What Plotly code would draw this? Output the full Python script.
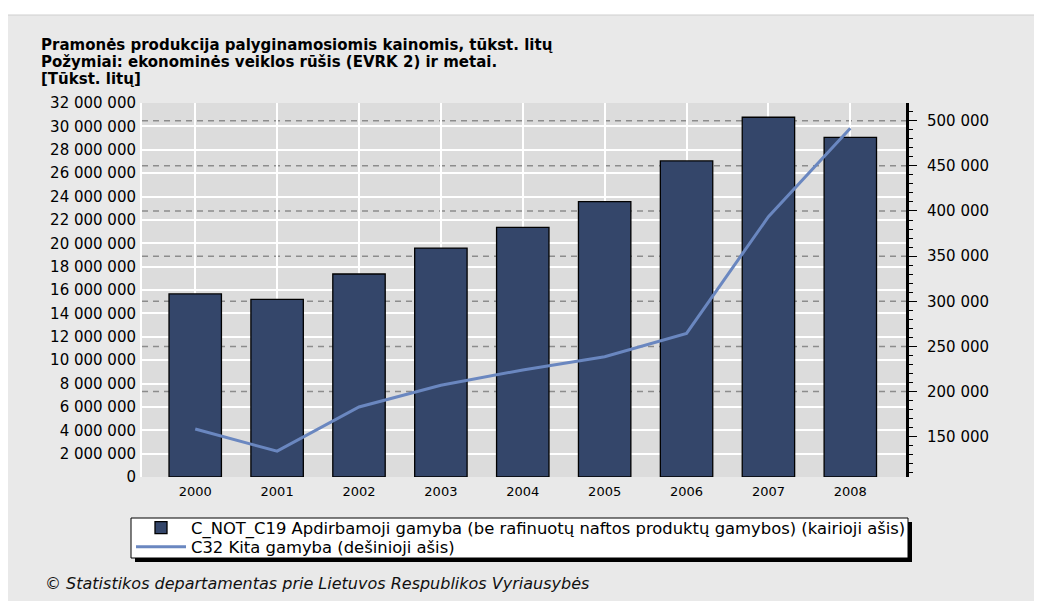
import plotly.graph_objects as go

# ---- data ----
years = ["2000", "2001", "2002", "2003", "2004", "2005", "2006", "2007", "2008"]
manufacturing = [15660000, 15200000, 17370000, 19590000, 21360000, 23560000, 27040000, 30780000, 29060000]
other_manufacturing = [158500, 134000, 183000, 207000, 224000, 238600, 264500, 393700, 491600]

title_lines = [
    "Pramonės produkcija palyginamosiomis kainomis, tūkst. litų",
    "Požymiai: ekonominės veiklos rūšis (EVRK 2) ir metai.",
    "[Tūkst. litų]",
]
bar_name = "C_NOT_C19 Apdirbamoji gamyba (be rafinuotų naftos produktų gamybos) (kairioji ašis)"
line_name = "C32 Kita gamyba (dešinioji ašis)"
footer = "© Statistikos departamentas prie Lietuvos Respublikos Vyriausybės"
right_grid_vals = [200000, 250000, 300000, 350000, 400000, 450000, 500000]

# ---- layout geometry (page pixels; the page body has an 8px margin) ----
OFF = 8
W, H = 1042 - OFF, 601 - OFF
PL, PR, PT, PB = 142, 906, 103, 477          # plot area in page pixels
PW, PH = PR - PL, PB - PT


def px(x):
    return (x - PL) / PW


def py(y):
    return (PB - y) / PH


FONT = "DejaVu Sans"

fig = go.Figure()
fig.add_trace(go.Bar(
    x=years, y=manufacturing, name=bar_name,
    marker=dict(color="#34466a", line=dict(color="#000000", width=1.3)),
    width=0.64, yaxis="y", legend="legend",
))
fig.add_trace(go.Scatter(
    x=years, y=other_manufacturing, name=line_name, mode="lines",
    line=dict(color="#6a87c0", width=3), yaxis="y2", legend="legend2",
))

shapes = []
# white strip above the grey panel
shapes.append(dict(type="rect", xref="paper", yref="paper",
                   x0=px(OFF), x1=px(1042), y0=py(15), y1=py(OFF),
                   fillcolor="white", line=dict(width=0), layer="below"))
shapes.append(dict(type="line", xref="paper", yref="paper",
                   x0=px(OFF), x1=px(1042), y0=py(15), y1=py(15),
                   line=dict(color="#cfcfcf", width=1), layer="below"))
# dashed gridlines of the right axis
for v in right_grid_vals:
    shapes.append(dict(type="line", xref="paper", yref="y2",
                       x0=0, x1=1, y0=v, y1=v,
                       line=dict(color="#8c8c8c", width=1.5, dash="6px,5px"),
                       layer="below"))
# legend frame with shadow
shapes.append(dict(type="rect", xref="paper", yref="paper",
                   x0=px(135), x1=px(912), y0=py(562), y1=py(522),
                   fillcolor="black", line=dict(width=0), layer="below"))
shapes.append(dict(type="rect", xref="paper", yref="paper",
                   x0=px(131), x1=px(908), y0=py(558), y1=py(518),
                   fillcolor="white", line=dict(color="black", width=1), layer="below"))

annotations = []
for i, t in enumerate(title_lines):
    annotations.append(dict(text=t, xref="paper", yref="paper",
                            x=px(39), y=py(45 + 17 * i), xanchor="left", yanchor="middle",
                            showarrow=False,
                            font=dict(family=FONT, size=15, color="black", weight="bold")))
annotations.append(dict(text="<i>" + footer + "</i>", xref="paper", yref="paper",
                        x=px(43), y=py(583), xanchor="left", yanchor="middle",
                        showarrow=False, font=dict(family=FONT, size=16, color="#111111")))

legend_common = dict(
    xanchor="left", yanchor="middle",
    bgcolor="rgba(0,0,0,0)", borderwidth=0,
    font=dict(family=FONT, size=16.4, color="black"),
    itemwidth=50,
)

fig.update_layout(
    width=W, height=H,
    margin=dict(l=PL - OFF, r=1042 - PR, t=PT - OFF, b=601 - PB, pad=0, autoexpand=False),
    paper_bgcolor="#e9e9e9",
    plot_bgcolor="#dcdcdc",
    separators=", ",
    font=dict(family=FONT, color="black"),
    showlegend=True,
    legend=dict(x=px(131), y=py(528), **legend_common),
    legend2=dict(x=px(131), y=py(547), **legend_common),
    xaxis=dict(
        type="category", range=[-0.65, 8.68],
        showgrid=True, gridcolor="white", gridwidth=1.5,
        showline=False, ticks="", ticklabelstandoff=5,
        tickfont=dict(family=FONT, size=13, color="black"),
        zeroline=False, automargin=False,
    ),
    yaxis=dict(
        range=[0, 32000000], dtick=2000000, tick0=0, tickformat=",d",
        showgrid=True, gridcolor="white", gridwidth=1.5,
        showline=True, linecolor="white", linewidth=2,
        ticks="", ticklabelstandoff=1, zeroline=False, automargin=False,
        tickfont=dict(family=FONT, size=15, color="black"),
    ),
    yaxis2=dict(
        overlaying="y", side="right", anchor="x",
        range=[105400, 519600], dtick=50000, tick0=0, tickformat=",d",
        showgrid=False, zeroline=False, automargin=False,
        showline=True, linecolor="black", linewidth=3,
        ticks="outside", ticklen=8, tickcolor="black", tickwidth=1,
        minor=dict(dtick=10000, ticks="outside", ticklen=4, tickcolor="black", showgrid=False),
        ticklabelstandoff=7,
        tickfont=dict(family=FONT, size=15, color="black"),
    ),
    shapes=shapes,
    annotations=annotations,
)

fig.write_html("out.html")
